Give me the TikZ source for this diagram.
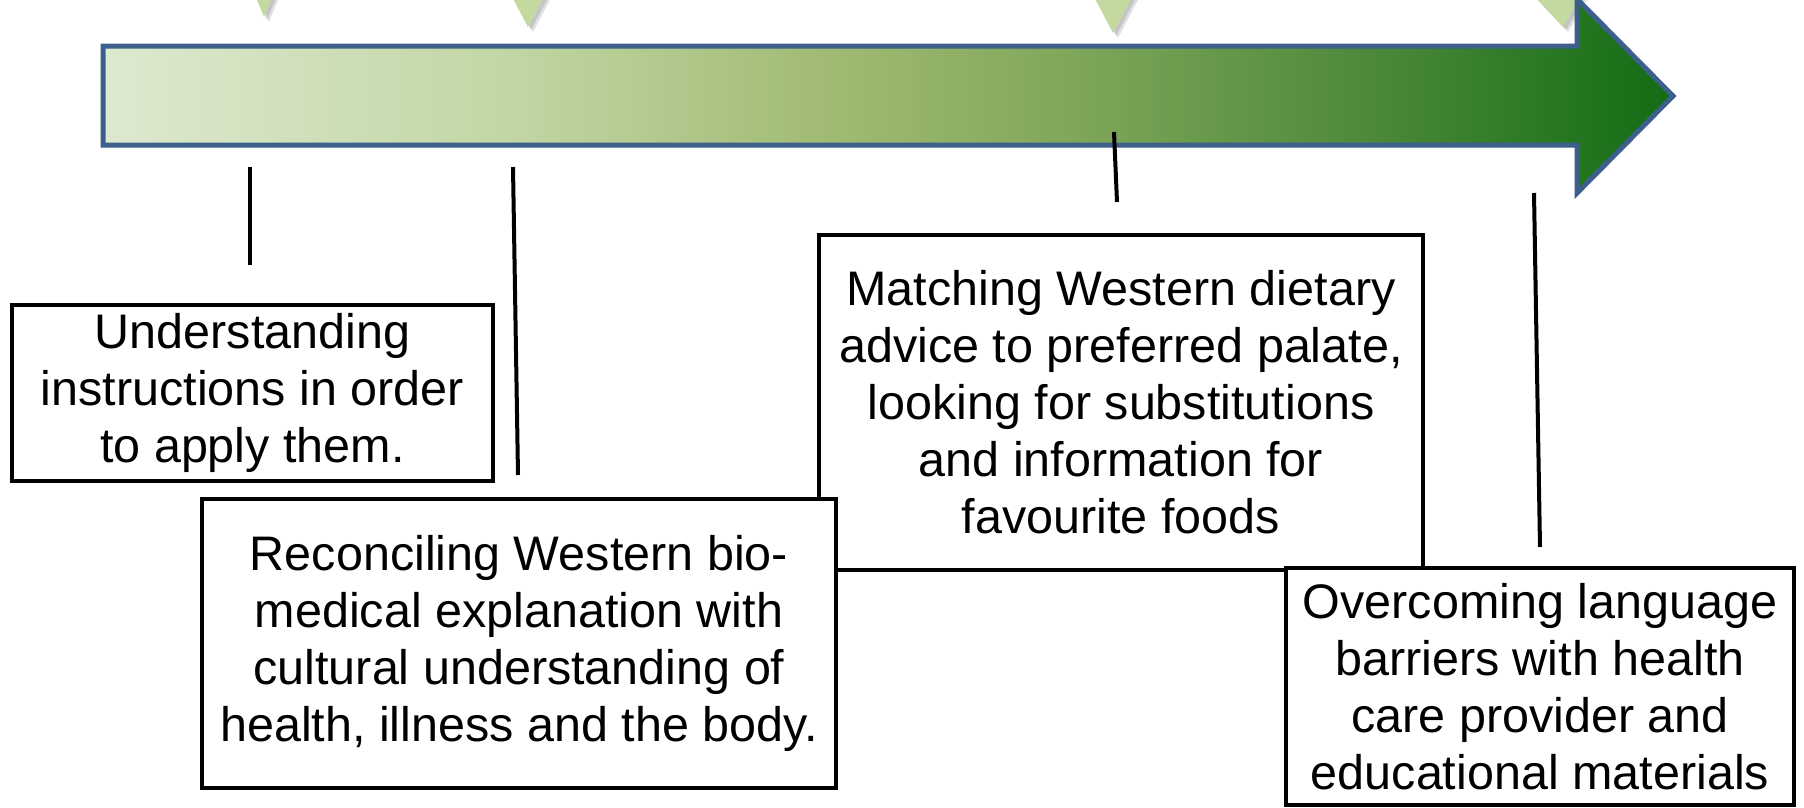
\documentclass[tikz,border=0pt]{standalone}
\usepackage{fontspec}
\setmainfont{Liberation Sans}
\definecolor{g0}{HTML}{DDE9D0}
\definecolor{g1}{HTML}{C1D6A4}
\definecolor{g2}{HTML}{9DB870}
\definecolor{g3}{HTML}{7FA65A}
\definecolor{g4}{HTML}{4E8A3C}
\definecolor{g5}{HTML}{126C14}
\definecolor{arrowedge}{HTML}{3C5F8C}
\definecolor{trifill}{HTML}{C3D9A0}
\pgfdeclarehorizontalshading{arrowgrad}{100bp}{color(0bp)=(g0); color(25bp)=(g0); color(38bp)=(g1); color(49bp)=(g2); color(56bp)=(g3); color(65bp)=(g4); color(75bp)=(g5); color(100bp)=(g5)}
\tikzset{
  box/.style={draw=black, line width=4pt, fill=white, align=center, inner sep=0pt,
    font=\fontsize{48.5}{57}\selectfont},
  tick/.style={draw=black, line width=4pt},
  tri/.style={fill=trifill},
  trishadow/.style={fill=black, opacity=0.12},
}
\begin{document}
\begin{tikzpicture}[x=1pt,y=-1pt]
\useasboundingbox (0,0) rectangle (1804,807);
% triangles (shadows first)
\foreach \dx/\dy in {3/3,5/5}{
  \fill[trishadow,shift={(\dx,\dy)}] (255,-5) -- (273,-5) -- (264,17) -- cycle;
  \fill[trishadow,shift={(\dx,\dy)}] (511,-5) -- (545,-5) -- (528,27) -- cycle;
  \fill[trishadow,shift={(\dx,\dy)}] (1093,-5) -- (1133,-5) -- (1113,33) -- cycle;
  \fill[trishadow,shift={(\dx,\dy)}] (1533,-5) -- (1582,-5) -- (1563,27) -- cycle;
}
\fill[tri] (255,-5) -- (273,-5) -- (264,17) -- cycle;
\fill[tri] (511,-5) -- (545,-5) -- (528,27) -- cycle;
\fill[tri] (1093,-5) -- (1133,-5) -- (1113,33) -- cycle;
\fill[tri] (1533,-5) -- (1582,-5) -- (1563,27) -- cycle;
% big arrow
\path[shading=arrowgrad, draw=arrowedge, line width=5pt, line join=miter]
  (103,46) -- (1577,46) -- (1577,-1) -- (1673,96) -- (1577,193) -- (1577,145) -- (103,145) -- cycle;
% tick lines
\coordinate (t1a) at (250,167); \coordinate (t1b) at (250,265);
\coordinate (t2a) at (513,167); \coordinate (t2b) at (518,475);
\coordinate (t3a) at (1114,132); \coordinate (t3b) at (1117,202);
\coordinate (t4a) at (1534,193); \coordinate (t4b) at (1540,547);
\draw[tick] (t1a) -- (t1b);
\draw[tick] (t2a) -- (t2b);
\draw[tick] (t3a) -- (t3b);
\draw[tick] (t4a) -- (t4b);
% boxes
\node[box, minimum width=604pt, minimum height=335pt] (b3) at (1121,402.5)
  {Matching Western dietary\\advice to preferred palate,\\looking for substitutions\\and information for\\favourite foods};
\node[box, minimum width=634pt, minimum height=289pt] (b2) at (519,643.5)
  {Reconciling Western bio-\\medical explanation with\\cultural understanding of\\health, illness and the body.};
\node[box, minimum width=481pt, minimum height=176pt] (b1) at (252.5,393)
  {Understanding\\instructions in order\\to apply them.};
\node[box, minimum width=508pt, minimum height=237pt] (b4) at (1540,686.5)
  {Overcoming language\\barriers with health\\care provider and\\educational materials};
\end{tikzpicture}
\end{document}
